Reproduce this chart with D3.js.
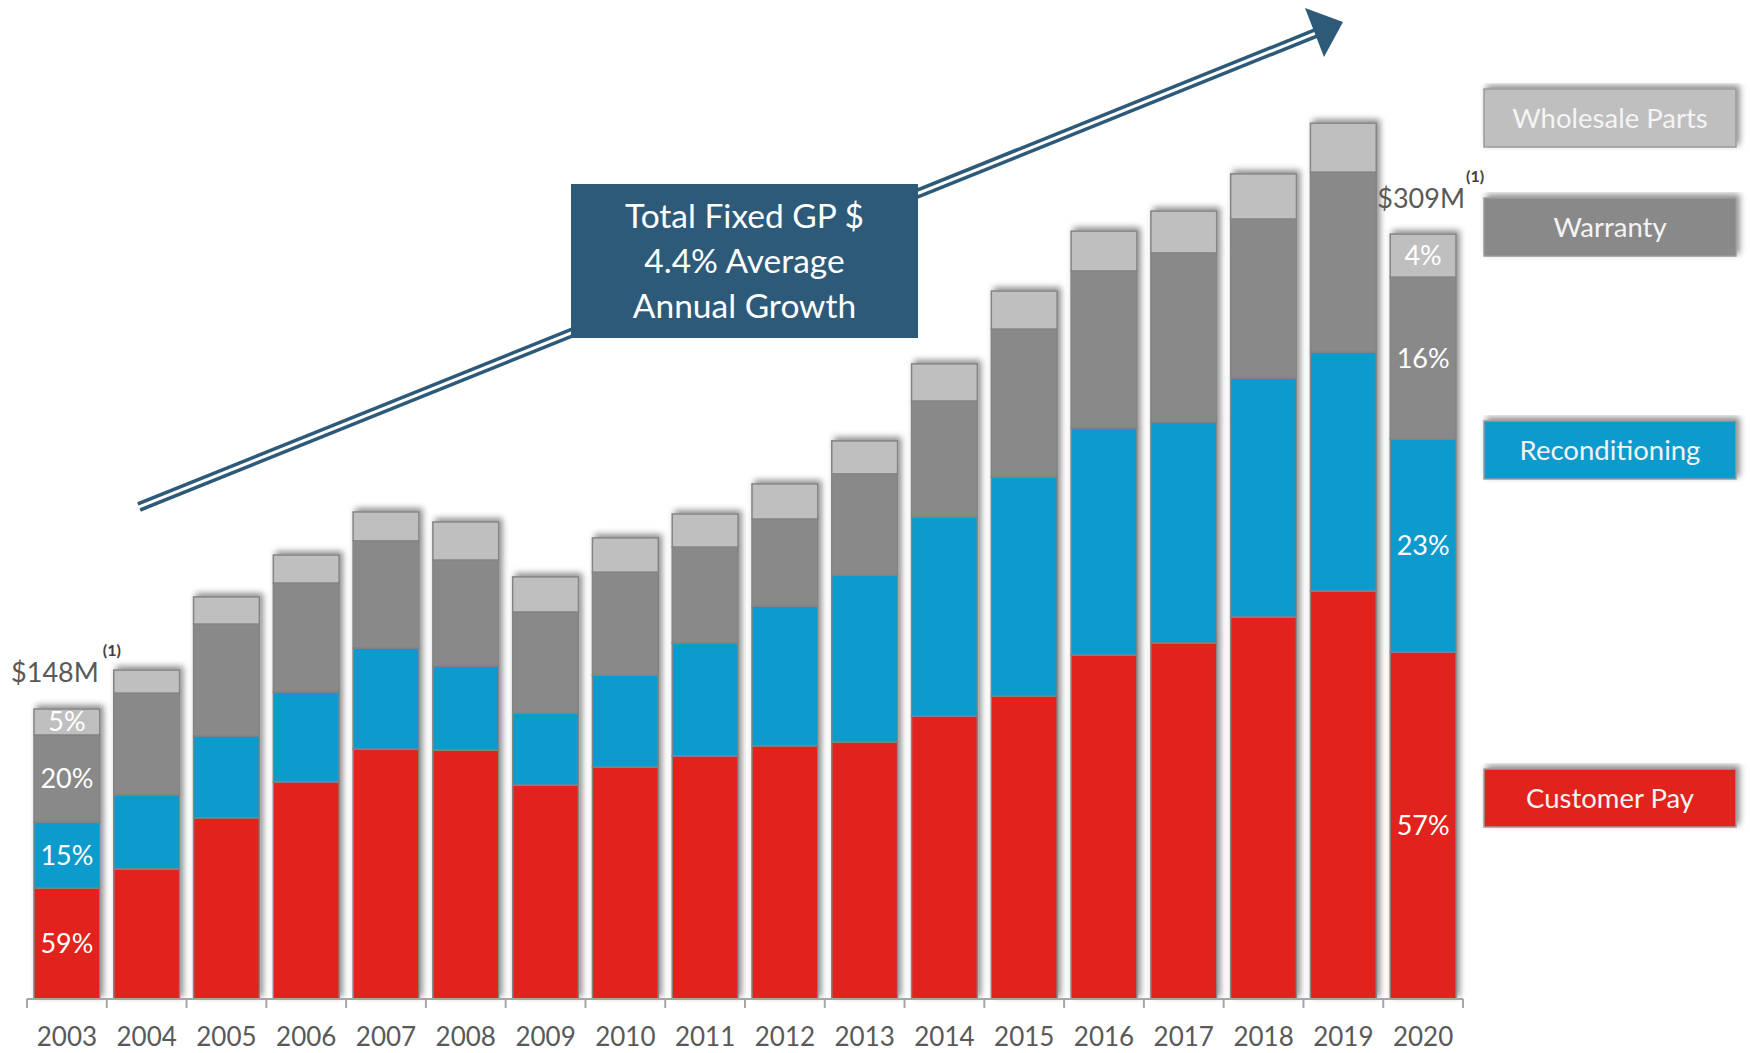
<!DOCTYPE html>
<html><head><meta charset="utf-8">
<script src="https://cdn.jsdelivr.net/npm/d3@7"></script>
<style>
body{margin:0;background:#fff;}
svg{display:block;font-family:Lato,"Open Sans",sans-serif;}
</style>
</head><body>
<svg id="c" width="1750" height="1053"></svg>
<script>
// ---- data ($M) ----
const years = ["2003","2004","2005","2006","2007","2008","2009","2010","2011","2012","2013","2014","2015","2016","2017","2018","2019","2020"];
const customerPay    = [87.6, 94.1,111.4,123.6,134.7,134.4,122.5,128.6,132.4,135.8,137.1,145.9,152.7,166.6,170.7,179.5,188.3,167.6];
const reconditioning = [22.4, 25.1, 27.8, 30.5, 34.3, 28.5, 24.4, 31.2, 38.3, 47.4, 56.6, 67.5, 74.2, 77.0, 74.9, 81.0, 81.0, 72.2];
const warranty       = [29.5, 34.5, 37.9, 36.9, 36.3, 35.9, 34.3, 34.9, 32.5, 29.5, 34.3, 39.3, 50.2, 53.2, 57.3, 53.9, 61.0, 54.9];
const wholesaleParts = [ 8.8,  7.8,  9.2,  9.5,  9.8, 12.9, 11.9, 11.6, 11.2, 11.9, 11.2, 12.6, 12.9, 13.5, 14.2, 15.3, 16.6, 14.6];
const seriesNames  = ["Customer Pay","Reconditioning","Warranty","Wholesale Parts"];
const seriesColors = ["#e2231e","#079acc","#898989","#bfbfbf"];
const pctFirst = ["59%","15%","20%","5%"];
const pctLast  = ["57%","23%","16%","4%"];
const totalFirst = "$148M";
const totalLast  = "$309M";
const footnote = "(1)";
const calloutLines = ["Total Fixed GP $","4.4% Average","Annual Growth"];

// ---- setup ----
const svg = d3.select("#c");
const defs = svg.append("defs");
const f = defs.append("filter").attr("id","sh")
  .attr("x","-30%").attr("y","-10%").attr("width","160%").attr("height","120%");
f.append("feDropShadow").attr("dx",3).attr("dy",-3).attr("stdDeviation",3)
  .attr("flood-color","#000").attr("flood-opacity",0.45);

const x = d3.scaleBand().domain(years).range([27,1463]).paddingInner(0.175).paddingOuter(0.0875);
const y = d3.scaleLinear().domain([50,370]).range([999, 999 - 320*2.95]).clamp(true);
const color = d3.scaleOrdinal().domain(seriesNames).range(seriesColors);

const rows = years.map((yr,i)=>({year:yr,
  "Customer Pay":customerPay[i], "Reconditioning":reconditioning[i],
  "Warranty":warranty[i], "Wholesale Parts":wholesaleParts[i]}));
const stacked = d3.stack().keys(seriesNames)(rows);

// ---- arrow (behind) ----
const arrowG = svg.append("g");
const aStart = [139,507], aEnd = [1316,33];
arrowG.append("line").attr("x1",aStart[0]).attr("y1",aStart[1]).attr("x2",aEnd[0]).attr("y2",aEnd[1])
  .attr("stroke","#2e5a79").attr("stroke-width",10);
arrowG.append("line").attr("x1",aStart[0]-3).attr("y1",aStart[1]+1.2).attr("x2",aEnd[0]+2).attr("y2",aEnd[1]-0.8)
  .attr("stroke","#fff").attr("stroke-width",3);
arrowG.append("polygon").attr("points","1305,8 1343,22 1324,57").attr("fill","#2e5a79");

// ---- bars ----
const barG = svg.append("g");
barG.selectAll("g").data(years).join("g")
  .attr("filter","url(#sh)")
  .each(function(yr,i){
    d3.select(this).selectAll("rect")
      .data(stacked.map(s=>({key:s.key, v:s[i]})))
      .join("rect")
      .attr("x", x(yr)).attr("width", x.bandwidth())
      .attr("y", d=>y(d.v[1])).attr("height", d=>y(d.v[0])-y(d.v[1]))
      .attr("fill", d=>color(d.key))
      .attr("stroke","#848484").attr("stroke-width",1.5);
  });

// ---- percentage labels ----
function pctLabels(idx, labels){
  const yr = years[idx];
  svg.append("g").selectAll("text").data(stacked.map((s,k)=>({v:s[idx], t:labels[k]})))
    .join("text")
    .attr("x", x(yr)+x.bandwidth()/2)
    .attr("y", d=>(y(d.v[0])+y(d.v[1]))/2 + 9.5)
    .attr("text-anchor","middle")
    .attr("font-size",27).attr("fill","#fff")
    .text(d=>d.t);
}
pctLabels(0, pctFirst);
pctLabels(years.length-1, pctLast);

// ---- total labels ----
const top0 = stacked[3][0][1], topN = stacked[3][years.length-1][1];
const fx = x(years[0]) + x.bandwidth();
svg.append("text").attr("x", fx-1).attr("y", y(top0)-27).attr("text-anchor","end")
  .attr("font-size",27).attr("fill","#595959").text(totalFirst);
svg.append("text").attr("x", fx+3).attr("y", y(top0)-53)
  .attr("font-size",16).attr("font-weight","bold").attr("fill","#404040").text(footnote);
const lx = x(years[years.length-1]) + x.bandwidth();
svg.append("text").attr("x", lx+9).attr("y", y(topN)-26).attr("text-anchor","end")
  .attr("font-size",27).attr("fill","#595959").text(totalLast);
svg.append("text").attr("x", lx+10).attr("y", y(topN)-52)
  .attr("font-size",16).attr("font-weight","bold").attr("fill","#404040").text(footnote);

// ---- x axis ----
const axisY = 999;
const axG = svg.append("g").attr("transform",`translate(0,${axisY})`);
axG.call(d3.axisBottom(x).tickSize(0).tickPadding(29));
axG.select(".domain").remove();
axG.selectAll("text").attr("font-size",26).attr("fill","#595959").attr("font-family","Lato");
const bounds = years.map(yr=>x(yr) - x.step()*x.paddingInner()/2);
bounds.push(x.range()[1]);
axG.append("line").attr("x1",x.range()[0]).attr("x2",x.range()[1]).attr("y1",0).attr("y2",0)
  .attr("stroke","#a6a6a6").attr("stroke-width",2);
axG.selectAll("line.bt").data(bounds).join("line").attr("class","bt")
  .attr("x1",d=>d).attr("x2",d=>d).attr("y1",0).attr("y2",9)
  .attr("stroke","#a6a6a6").attr("stroke-width",2);

// ---- callout box ----
const cb = svg.append("g");
cb.append("rect").attr("x",571).attr("y",184).attr("width",347).attr("height",154).attr("fill","#2e5a79");
cb.selectAll("text").data(calloutLines).join("text")
  .attr("x",744.5).attr("y",(d,i)=>228+i*45).attr("text-anchor","middle")
  .attr("font-size",33.5).attr("fill","#fff").text(d=>d);

// ---- legend ----
const legendOrder = ["Wholesale Parts","Warranty","Reconditioning","Customer Pay"];
const legendTop = [89,198,421,769];
const lg = svg.append("g");
const items = lg.selectAll("g").data(legendOrder).join("g")
  .attr("transform",(d,i)=>`translate(1484,${legendTop[i]})`);
items.append("rect").attr("width",252).attr("height",58)
  .attr("fill",d=>color(d)).attr("stroke","#9a9a9a").attr("stroke-width",1.5)
  .attr("filter","url(#sh)");
items.append("text").attr("x",126).attr("y",38.5).attr("text-anchor","middle")
  .attr("font-size",27.5).attr("fill","#f4f4f4").text(d=>d);
</script>
</body></html>
